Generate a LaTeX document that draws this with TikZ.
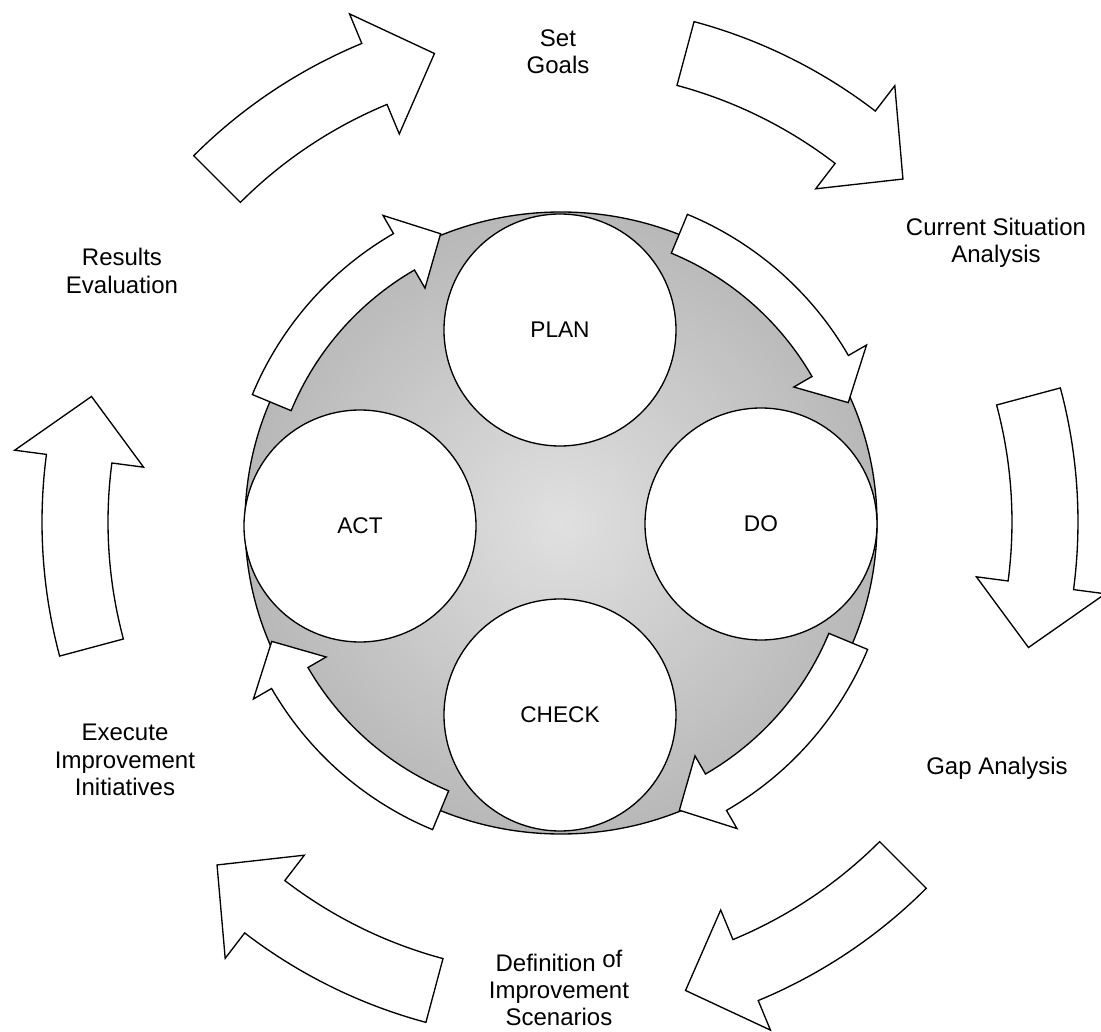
\documentclass[tikz,border=0pt]{standalone}
\usepackage{fontspec}
\setmainfont{Liberation Sans}

\definecolor{discin}{RGB}{224,224,224}
\definecolor{discout}{RGB}{184,184,184}
\pgfdeclareradialshading{discshade}{\pgfpoint{0bp}{0bp}}{%
  color(0bp)=(discin); color(25bp)=(discout); color(50bp)=(discout)}

% curved block arrow around the origin:
% #1 radius, #2 shaft half width, #3 head half width,
% #4 tail angle, #5 head base angle, #6 tip angle
\newcommand{\ringarrow}[6]{%
  \filldraw[blockarrow]
    (#4:{#1+#2}) arc[start angle=#4, end angle=#5, radius={#1+#2}]
    -- (#5:{#1+#3}) -- (#6:#1) -- (#5:{#1-#3}) -- (#5:{#1-#2})
    arc[start angle=#5, end angle=#4, radius={#1-#2}] -- cycle;}

\tikzset{
  outline/.style={draw=black, line width=1pt, line join=miter},
  blockarrow/.style={outline, fill=white},
  stage/.style={circle, outline, fill=white, minimum size=174pt,
    inner sep=0pt, font=\fontsize{17}{20}\selectfont},
  steplabel/.style={align=center, inner sep=0pt,
    font=\fontsize{18}{20.5}\selectfont},
}

\begin{document}
\begin{tikzpicture}[x=0.75pt, y=0.75pt]
\useasboundingbox (-560,-510) rectangle (541,522);

% shaded disc
\shadedraw[shading=discshade, outline] (1,-1) ellipse [x radius=316, y radius=311];

% PDCA stages
\node[stage] (plan)  at (0,192)   {PLAN};
\node[stage] (do)    at (201,-2)  {DO};
\node[stage] (check) at (0,-193)  {CHECK};
\node[stage] (act)   at (-200,-4) {ACT};

% inner cycle arrows
\ringarrow{312}{21}{42}{157.5}{120}{112.5}
\ringarrow{312}{21}{42}{67.5}{30}{22.5}
\ringarrow{312}{21}{42}{-22.5}{-60}{-67.5}
\ringarrow{312}{21}{42}{-112.5}{-150}{-157.5}

% outer cycle arrows
\ringarrow{485}{33}{65}{195}{172.5}{165}
\ringarrow{485}{33}{65}{135}{112.5}{105}
\ringarrow{485}{33}{65}{75}{52.5}{45}
\ringarrow{485}{33}{65}{15}{-7.5}{-15}
\ringarrow{485}{33}{65}{-45}{-67.5}{-75}
\ringarrow{485}{33}{65}{-105}{-127.5}{-135}

% outer cycle steps
\node[steplabel] (goals)   at (-2,470)    {Set\\Goals};
\node[steplabel] (current) at (436,279)   {Current Situation\\Analysis};
\node[steplabel] (gap)     at (437,-246)  {Gap Analysis};
\node[steplabel] (define)  at (-1,-466)   {Definition \raisebox{3pt}{of}\\Improvement\\Scenarios};
\node[steplabel] (execute) at (-435,-238) {Execute\\Improvement\\Initiatives};
\node[steplabel] (results) at (-438,251)  {Results\\Evaluation};
\end{tikzpicture}
\end{document}
